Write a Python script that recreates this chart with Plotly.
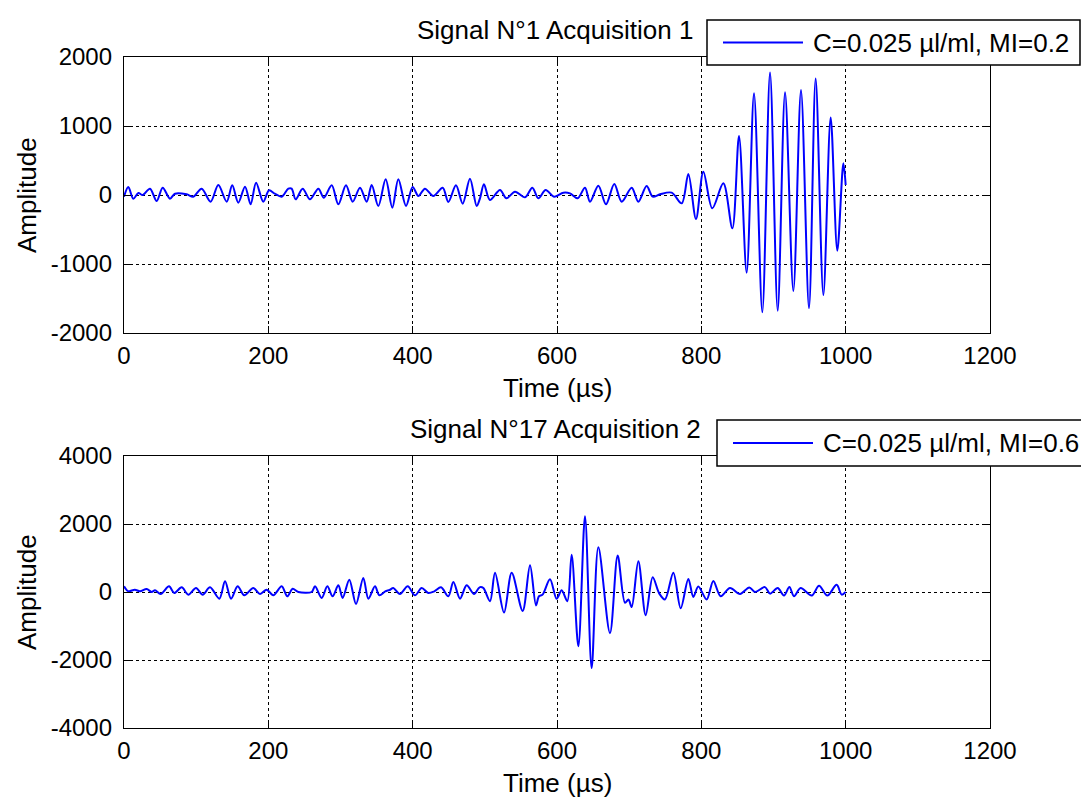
import plotly.graph_objects as go

# ---------------- data ----------------
time1 = [0, 6, 12.9, 19.9, 25.9, 36, 45.3, 53.6, 63.7, 70.7, 86.8, 96, 107.6, 120, 130.7,
         142.3, 150, 158.4, 167.7, 175.5, 183, 193, 201, 209, 218.5, 227.7, 232.3, 237.9,
         247.6, 257.7, 269.3, 277, 287.8, 297, 307.6, 316.9, 327, 336.3, 343.2, 352.4,
         362.6, 371.8, 380.1, 390.8, 400, 407.9, 417, 428.6, 441.6, 449.4, 460, 469.3,
         479.4, 488.7,
         493.3, 498.8, 507, 521, 530, 541.8, 555.7, 565.8, 574.1, 584.3, 595.8, 608.8, 618,
         628.6, 638.8, 645.7, 657.3, 667.9, 679.4, 689.6, 703.5, 712.7, 724.2, 732.6, 742.7,
         758.9, 772.8, 782, 792.6, 802.8, 815.2, 830.5, 843, 852.2, 862.8, 873, 884.5,
         895.2, 905.8, 916, 927.5, 938.1, 949.2, 958.4, 969.1, 979.2, 988.4, 996.8, 1000]
amp1 = [-24, 116, -53, 29, 0, 92, -87, 106, -53, 19, 10, -24, 92, -97, 145,
        -97, 140, -111, 121, -135, 179, -97, 68, 19, -24, 92, 92, -63,
        92, -63, 92, -39, 140, -135, 140, -97, 106, -97, 145, -159,
        227, -183, 227, -159, 116, -15, 92, -15, 106, -101, 140, -125,
        237, -159,
        -48, 155, -72, 72, -48, 48, -34, 106, -48, 72, -24, 34, 24,
        -48, 106, -97, 135, -135, 159, -97, 106, -97, 130, -24, 10,
        34, -121, 304, -348, 338, -193, 169, -483, 855, -1125, 1473, -1700,
        1777, -1676, 1488, -1391, 1521, -1642, 1690, -1449, 1125, -807, 459, 145]

time2 = [0, 6, 15, 22.2, 31.4, 38.3, 43, 50.8, 62.4, 69.7, 79.9, 89.1, 99.8, 109, 119.2,
         132.1, 140, 148.3, 157.5, 166.7, 179.2, 188.5, 197.7, 206.9, 218.5, 226.3, 233.7,
         241.6, 260, 264.7, 273.9, 281.8, 289.1, 297, 303, 312.2, 321.5, 331.6, 338.6,
         347.8, 353.8, 362, 368, 373.2, 382.4, 393.1, 403.2, 412.5, 421.7, 430, 439.3,
         449.4, 456.4, 465.6, 474.8, 485, 491,
         493.3, 498, 507.2, 514.1, 526.6, 537.2, 552.4, 562.6, 570.9, 575, 580, 590.3,
         599.5, 606.5, 614.3, 620.3, 629.6, 638.8, 648, 657.3, 673.4, 684.1, 694.2, 699,
         703.5, 712.7, 722.9, 732.6, 741.8, 749.6, 761.2, 771.4, 782, 788.9, 795.8, 807.4,
         816.6, 826.8, 839.7, 853.6, 866.5, 874.4, 888.2, 895.2, 905.8, 914.5, 922, 928.4,
         937.6, 952.9, 963.1, 974.6, 987.5, 994.5, 1000]
amp2 = [167, 20, 69, 20, 88, 0, 49, -59, 167, -29, 137, -78, 118, -78, 137,
        -196, 314, -196, 167, -98, 118, -59, 69, -98, 167, -127, 98,
        0, 0, 167, -176, 167, -127, 196, -176, 363, -353, 412, -196,
        167, -98, 20, 60, 118, -59, 167, -98, 118, -29, 20, 137,
        -127, 294, -196, 196, -59, 98,
        144, 115, -269, 566, -605, 566, -557, 787, -394, -125, -77, 374,
        -202, 48, -269, 1094, -1594, 2227, -2237, 1315, -1210, 1075, -317, -221,
        -442, 902, -682, 432, -48, -221, 566, -480, 384, -144, 163, -221,
        326, -125, 115, -58, 134, 0, 144, -48, 115, -106, 144, -125,
        115, -106, 182, -106, 211, -77, 0]

titles = ["Signal N°1 Acquisition 1", "Signal N°17 Acquisition 2"]
legend_labels = ["C=0.025 µl/ml, MI=0.2", "C=0.025 µl/ml, MI=0.6"]
x_label = "Time (µs)"
y_label = "Amplitude"
x_ticks = [0, 200, 400, 600, 800, 1000, 1200]
y_ticks1 = [-2000, -1000, 0, 1000, 2000]
y_ticks2 = [-4000, -2000, 0, 2000, 4000]

# ---------------- layout helpers ----------------
W, H = 1081, 801
FONT = "Liberation Sans, Arial, sans-serif"
BLUE = "#0000ff"


def px(x):
    return x / W


def py(y):
    return 1 - y / H


def fmt(v):
    return str(v)  # plain hyphen minus like the original


fig = go.Figure()
line_style = dict(color=BLUE, width=2, shape="spline", smoothing=0.9)
fig.add_trace(go.Scatter(x=time1, y=amp1, mode="lines", line=line_style,
                         name=legend_labels[0], showlegend=False, xaxis="x", yaxis="y"))
fig.add_trace(go.Scatter(x=time2, y=amp2, mode="lines", line=line_style,
                         name=legend_labels[1], showlegend=False, xaxis="x2", yaxis="y2"))

axis_common = dict(
    showline=True, linecolor="black", linewidth=1.3, mirror="ticks",
    ticks="inside", ticklen=7, tickwidth=1, tickcolor="black",
    showgrid=True, gridcolor="black", gridwidth=1, griddash="dot",
    zeroline=False, automargin=False,
    tickfont=dict(family=FONT, size=24, color="black"),
)

xdom = [px(124), px(990)]
top_dom = [py(333), py(57)]
bot_dom = [py(728), py(456)]

fig.update_layout(
    template="none",
    width=W, height=H,
    margin=dict(l=0, r=0, t=0, b=0, autoexpand=False),
    paper_bgcolor="white", plot_bgcolor="white",
    font=dict(family=FONT, color="black"),
    showlegend=False,
    xaxis=dict(domain=xdom, anchor="y", range=[0, 1200], tickvals=x_ticks,
               ticktext=[fmt(v) for v in x_ticks], ticklabelstandoff=1, **axis_common),
    yaxis=dict(domain=top_dom, anchor="x", range=[-2000, 2000], tickvals=y_ticks1,
               ticktext=[fmt(v) for v in y_ticks1], ticklabelstandoff=6, **axis_common),
    xaxis2=dict(domain=xdom, anchor="y2", range=[0, 1200], tickvals=x_ticks,
                ticktext=[fmt(v) for v in x_ticks], ticklabelstandoff=1, **axis_common),
    yaxis2=dict(domain=bot_dom, anchor="x2", range=[-4000, 4000], tickvals=y_ticks2,
                ticktext=[fmt(v) for v in y_ticks2], ticklabelstandoff=6, **axis_common),
)

annotations = []
shapes = []
# titles and axis labels
for title, (top, bottom) in zip(titles, [(57, 333), (456, 728)]):
    annotations.append(dict(text=title, x=px(555), y=py(top - 27), xref="paper", yref="paper",
                            showarrow=False, xanchor="center", yanchor="middle",
                            font=dict(family=FONT, size=26, color="black")))
    annotations.append(dict(text=x_label, x=px(557), y=py(bottom + 55), xref="paper", yref="paper",
                            showarrow=False, xanchor="center", yanchor="middle",
                            font=dict(family=FONT, size=26, color="black")))
    annotations.append(dict(text=y_label, x=px(27), y=py((top + bottom) / 2), xref="paper",
                            yref="paper", showarrow=False, xanchor="center", yanchor="middle",
                            textangle=-90, font=dict(family=FONT, size=26, color="black")))

# legend boxes (drawn like the MATLAB legends)
legend_boxes = [(707, 20, 1080, 65), (717, 420, 1095, 466)]
for label, (x0, y0, x1, y1) in zip(legend_labels, legend_boxes):
    ym = (y0 + y1) / 2
    shapes.append(dict(type="rect", xref="paper", yref="paper", x0=px(x0), x1=px(x1),
                       y0=py(y1), y1=py(y0), line=dict(color="black", width=1.5),
                       fillcolor="white", layer="above"))
    shapes.append(dict(type="line", xref="paper", yref="paper", x0=px(x0 + 16), x1=px(x0 + 96),
                       y0=py(ym), y1=py(ym), line=dict(color=BLUE, width=1.8), layer="above"))
    annotations.append(dict(text=label, x=px(x0 + 104), y=py(ym), xref="paper", yref="paper",
                            showarrow=False, xanchor="left", yanchor="middle",
                            font=dict(family=FONT, size=26, color="black")))

fig.update_layout(annotations=annotations, shapes=shapes)
fig.write_html("out.html")
